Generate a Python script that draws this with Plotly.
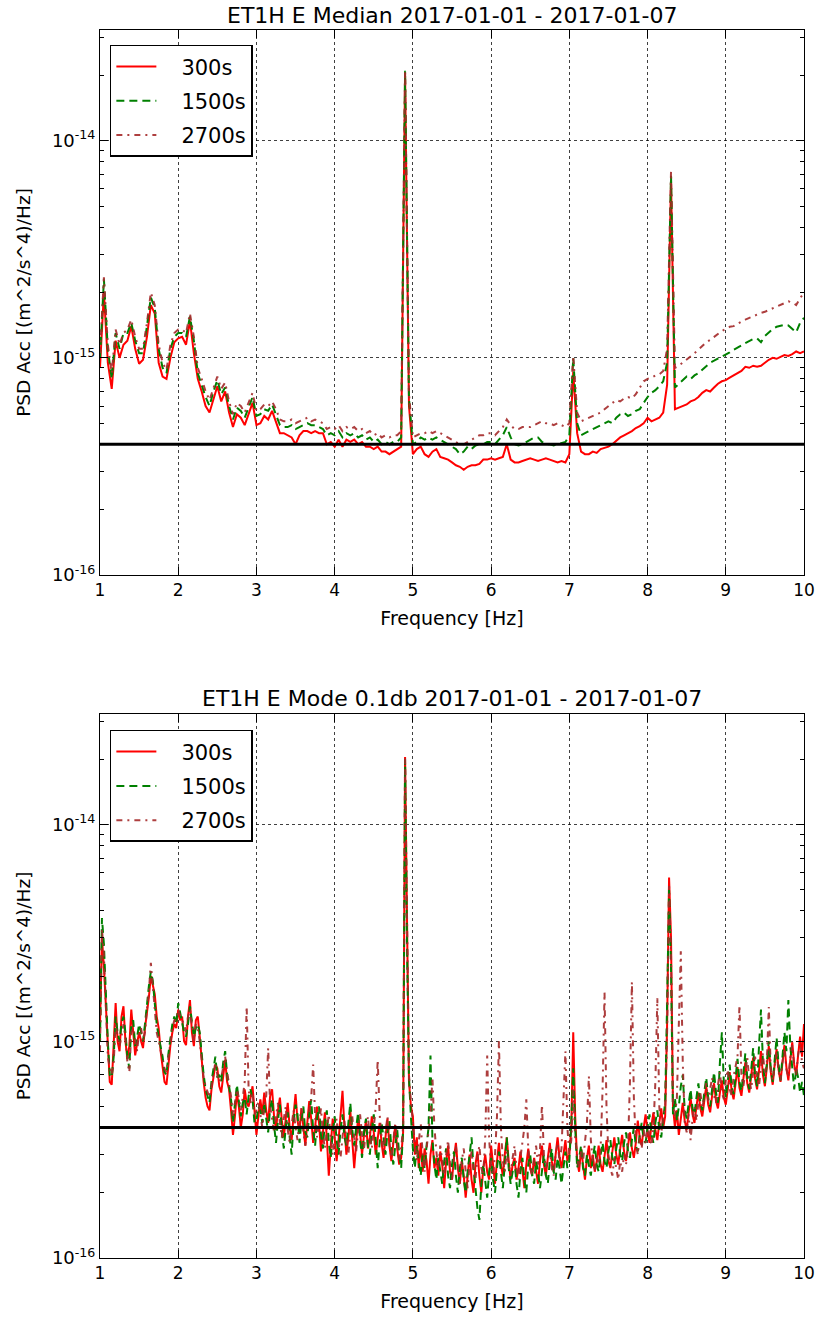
import numpy as np
import plotly.graph_objects as go

# ---------------- data (PSD in units of 1e-16 (m^2/s^4)/Hz) ----------------
UNIT = 1e-16
FLOOR = 4.0  # black reference line level (x UNIT)
labels = ["300s", "1500s", "2700s"]

# Median plot, frequency grid 1.00 .. 10.00 step 0.05 Hz
med_freq = np.round(np.arange(181) * 0.05 + 1.0, 3)
med_300 = [
    9.0, 20.0, 9.5, 7.2, 12.0, 10.0, 11.5, 12.0, 14.0, 11.0, 9.4, 9.8, 12.5, 17.5, 16.0, 9.5, 8.2, 8.0, 10.0, 11.8,
    12.3, 12.5, 11.5, 14.8, 10.5, 8.0, 7.0, 6.0, 5.6, 6.5, 7.4, 6.3, 7.0, 5.6, 4.8, 5.5, 5.3, 4.9, 5.5, 6.2,
    4.9, 5.0, 5.4, 5.2, 5.7, 5.0, 4.5, 4.5, 4.4, 4.3, 4.0, 4.4, 4.6, 4.6, 4.5, 4.6, 4.5, 4.5, 4.0, 4.1,
    3.9, 4.2, 3.9, 4.2, 4.1, 4.2, 4.0, 4.1, 3.9, 3.9, 3.8, 3.9, 3.7, 3.7, 3.6, 3.7, 3.8, 3.9, 205, 6.0,
    3.6, 3.8, 3.9, 3.6, 3.5, 3.7, 3.8, 3.5, 3.45, 3.4, 3.3, 3.2, 3.15, 3.05, 3.15, 3.2, 3.2, 3.25, 3.4, 3.4,
    3.45, 3.4, 3.45, 3.5, 4.0, 3.4, 3.3, 3.3, 3.35, 3.4, 3.45, 3.4, 3.35, 3.4, 3.45, 3.4, 3.35, 3.3, 3.35, 3.3,
    3.6, 8.6, 4.5, 3.7, 3.6, 3.6, 3.7, 3.65, 3.8, 3.85, 3.9, 4.0, 4.15, 4.3, 4.4, 4.5, 4.6, 4.75, 4.85, 5.0,
    5.3, 5.1, 5.2, 5.3, 5.6, 7.5, 66, 5.8, 5.9, 6.0, 6.1, 6.3, 6.4, 6.6, 6.9, 7.1, 7.0, 7.3, 7.6, 7.8,
    7.9, 8.1, 8.3, 8.5, 8.7, 9.1, 9.0, 9.2, 9.1, 9.2, 9.5, 9.8, 10.0, 9.9, 10.1, 10.3, 10.2, 10.4, 10.7, 10.5,
    10.7,
]
med_1500 = [
    10.0, 23.0, 11.0, 8.0, 13.0, 11.0, 13.0, 13.0, 14.5, 12.0, 10.5, 10.5, 14.0, 19.0, 17.0, 11.0, 9.0, 8.5, 11.0, 12.5,
    13.0, 13.0, 12.5, 15.5, 12.0, 8.5, 7.5, 6.6, 6.0, 7.0, 7.9, 6.8, 7.3, 6.0, 5.2, 5.9, 5.7, 5.3, 5.9, 6.6,
    5.4, 5.5, 5.8, 5.7, 6.1, 5.5, 4.9, 4.8, 4.8, 4.9, 4.7, 4.8, 4.9, 5.0, 4.9, 4.9, 4.8, 4.7, 4.4, 4.5,
    4.4, 4.6, 4.3, 4.5, 4.4, 4.5, 4.3, 4.4, 4.2, 4.3, 4.1, 4.2, 4.0, 4.1, 4.0, 4.1, 4.1, 4.3, 210, 6.5,
    4.0, 4.1, 4.3, 4.2, 4.3, 4.2, 4.3, 4.2, 4.1, 4.0, 3.9, 3.8, 3.6, 3.7, 3.9, 3.8, 3.95, 4.0, 4.0, 4.1,
    4.1, 4.0, 4.2, 4.4, 4.8, 4.3, 4.0, 3.95, 4.0, 4.1, 4.2, 4.3, 4.3, 4.1, 4.0, 4.0, 3.95, 4.0, 4.05, 4.1,
    4.4, 10.0, 5.0, 4.4, 4.5, 4.6, 4.7, 4.8, 4.9, 5.0, 5.1, 5.0, 5.3, 5.5, 5.6, 5.4, 5.5, 5.7, 5.8, 6.2,
    6.6, 6.9, 7.1, 7.4, 7.8, 9.5, 69, 7.3, 7.6, 7.9, 8.2, 8.0, 8.3, 8.5, 8.8, 9.2, 9.5, 9.7, 9.9, 10.1,
    10.3, 10.6, 10.9, 11.2, 11.4, 11.7, 12.0, 12.2, 12.3, 11.8, 12.6, 13.1, 13.6, 13.9, 14.0, 14.2, 14.1, 13.6, 13.1, 14.5,
    15.3,
]
med_2700 = [
    10.5, 23.5, 11.5, 8.5, 13.5, 11.5, 13.0, 13.5, 15.0, 12.5, 11.0, 11.0, 14.5, 20.0, 17.5, 11.5, 9.5, 8.8, 11.5, 13.0,
    13.5, 13.5, 13.0, 16.0, 12.5, 9.0, 8.0, 7.0, 6.4, 7.3, 8.2, 7.2, 7.7, 6.3, 5.5, 6.2, 6.0, 5.6, 6.2, 6.9,
    5.7, 5.8, 6.1, 6.0, 6.3, 5.8, 5.2, 5.1, 5.1, 5.2, 5.0, 5.1, 5.2, 5.3, 5.1, 5.2, 5.1, 5.0, 4.7, 4.8,
    4.7, 4.9, 4.6, 4.8, 4.7, 4.8, 4.6, 4.7, 4.5, 4.6, 4.4, 4.5, 4.3, 4.4, 4.3, 4.4, 4.4, 4.6, 212, 6.8,
    4.3, 4.4, 4.5, 4.5, 4.6, 4.5, 4.6, 4.5, 4.4, 4.3, 4.2, 4.1, 4.0, 4.0, 4.1, 4.2, 4.3, 4.4, 4.4, 4.5,
    4.5, 4.4, 4.6, 4.8, 5.2, 4.9, 4.7, 4.7, 4.8, 4.8, 4.8, 4.9, 5.0, 5.1, 5.0, 5.0, 4.9, 5.0, 4.9, 4.8,
    5.0, 10.2, 5.6, 5.1, 5.2, 5.3, 5.4, 5.5, 5.6, 5.8, 6.0, 6.2, 6.4, 6.3, 6.5, 6.6, 6.5, 6.8, 7.3, 7.8,
    8.0, 8.1, 8.3, 8.4, 8.7, 11.0, 72, 9.0, 9.2, 9.5, 9.8, 10.1, 10.5, 10.9, 11.3, 11.8, 12.1, 12.5, 12.9, 13.3,
    13.6, 13.9, 14.0, 14.4, 14.7, 15.0, 15.3, 15.5, 15.9, 16.1, 16.3, 16.6, 16.9, 17.1, 17.4, 17.8, 18.2, 18.0, 17.5, 18.8,
    20.0,
]

# Mode 0.1db plot, frequency grid 1.000 .. 10.000 step 0.025 Hz
mode_freq = np.round(np.arange(361) * 0.025 + 1.0, 3)
mode_300 = [
    12, 30, 22, 14, 9, 6.5, 6.3, 9.5, 15, 10, 9, 13, 14.5, 10, 8.3, 9.5, 14, 11, 8.6, 9.8, 11, 10, 9.3, 11.5, 13.5, 16, 20, 18, 16.5, 13, 11.5, 9, 7.8, 6.5, 6.3, 8, 9.6, 11, 12, 11.5,
    14, 12.5, 13, 10, 9.6, 13, 15.5, 11, 9.5, 12.5, 13, 10.5, 8, 6.5, 5.5, 5.0, 4.8, 6.0, 6.8, 7.8, 7.5, 6.2, 5.8, 7.0, 8.2, 6.5, 6.0, 4.8, 3.7, 4.5, 5.8, 5.0, 4.0, 4.6, 6.0, 5.2, 5.0, 5.5, 6.2, 4.8,
    3.7, 4.5, 5.4, 4.6, 5.8, 4.8, 4.2, 5.6, 6.0, 4.5, 3.9, 4.8, 5.5, 4.3, 3.6, 4.4, 5.2, 4.0, 3.5, 4.6, 5.7, 4.3, 3.8, 4.9, 4.1, 3.3, 4.2, 5.3, 4.4, 3.4, 4.0, 5.0, 4.2, 3.1, 3.8, 4.7, 3.6, 2.4, 3.3, 4.4,
    3.6, 2.8, 3.5, 4.6, 5.9, 4.0, 3.0, 3.6, 4.8, 3.5, 2.6, 3.4, 4.5, 3.8, 3.0, 3.7, 4.3, 3.2, 3.6, 4.5, 3.8, 3.0, 3.5, 4.2, 3.4, 2.9, 3.6, 4.4, 3.3, 2.8, 3.4, 4.1, 3.2, 2.7, 2.9, 3.8, 205, 25, 6.5, 5.0,
    4.5, 3.0, 3.6, 2.6, 3.4, 2.5, 3.2, 2.8, 2.2, 3.0, 3.5, 2.6, 2.9, 2.4, 3.1, 2.7, 2.1, 2.8, 3.3, 2.5, 2.3, 2.9, 3.4, 2.6, 2.2, 2.8, 2.4, 1.9, 2.5, 3.0, 2.3, 2.0, 2.7, 3.1, 2.4, 2.0, 2.6, 3.0, 2.5, 2.3,
    3.3, 2.6, 2.2, 2.8, 3.4, 2.7, 2.4, 3.0, 3.6, 2.8, 2.3, 2.7, 2.9, 2.3, 2.6, 3.1, 2.5, 2.1, 2.7, 3.2, 2.6, 2.4, 2.9, 2.5, 2.2, 2.8, 3.3, 2.7, 2.4, 2.9, 3.4, 2.8, 2.5, 3.0, 3.6, 2.9, 2.6, 3.0, 3.5, 2.8,
    3.0, 4.0, 11.0, 4.5, 2.8, 2.5, 3.2, 2.7, 2.3, 2.9, 3.3, 2.6, 3.0, 2.5, 2.8, 3.3, 2.7, 2.5, 3.0, 3.5, 2.8, 2.6, 3.1, 3.6, 3.0, 2.7, 3.2, 3.7, 3.1, 2.8, 3.3, 3.8, 3.2, 2.9, 3.4, 4.3, 3.6, 3.3, 4.0, 4.6,
    3.8, 3.4, 4.1, 4.7, 3.9, 3.5, 4.2, 4.9, 4.0, 4.5, 12.0, 57, 30, 5.0, 4.0, 4.8, 3.7, 4.4, 5.2, 4.3, 3.9, 4.7, 5.5, 4.6, 4.2, 5.0, 5.8, 4.9, 4.5, 5.3, 6.2, 5.1, 4.7, 5.6, 6.4, 5.3, 4.9, 5.8, 6.6, 5.5,
    5.1, 6.0, 7.2, 5.9, 5.4, 6.4, 7.6, 6.1, 5.6, 6.7, 8.0, 6.4, 5.8, 6.9, 8.4, 6.7, 6.0, 7.3, 9.0, 7.0, 6.2, 7.6, 9.5, 7.2, 6.3, 7.8, 9.2, 7.4, 6.5, 8.0, 9.6, 7.6, 6.6, 8.2, 9.9, 7.8, 7.0, 8.6, 10.5, 8.5,
    12.0,
]
mode_1500 = [
    10, 37, 28, 16, 10, 7.0, 6.8, 8.5, 13, 11, 10, 12, 13, 11, 8.5, 7.5, 12, 12.5, 9.5, 10.5, 12, 11, 10, 12, 15, 18, 21, 19, 15, 12, 10.5, 9.5, 8.5, 7.2, 7.0, 8.8, 10.5, 12, 13, 12,
    15, 13.5, 12, 11, 10.5, 12, 14.5, 12, 10.5, 11.5, 12, 11, 8.5, 7.0, 6.0, 5.5, 5.2, 6.5, 7.5, 8.5, 6.8, 7.0, 6.5, 8.0, 9.0, 7.0, 6.2, 5.4, 4.2, 5.0, 6.3, 5.3, 4.5, 5.2, 5.5, 4.6, 5.6, 6.0, 5.4, 4.2,
    4.3, 5.0, 4.8, 4.2, 5.2, 4.4, 3.8, 4.9, 5.4, 4.1, 3.4, 4.3, 5.1, 3.8, 3.2, 4.0, 4.7, 3.6, 3.0, 4.2, 5.1, 4.6, 3.4, 4.3, 5.0, 3.8, 3.6, 4.6, 5.4, 3.9, 3.3, 4.4, 5.0, 3.7, 3.2, 4.3, 4.8, 3.4, 2.9, 3.8,
    4.5, 3.5, 3.0, 3.9, 4.6, 3.6, 3.3, 4.2, 5.2, 3.9, 3.3, 4.0, 4.7, 3.5, 2.9, 3.8, 4.4, 3.3, 3.0, 3.9, 4.6, 3.5, 2.6, 3.4, 4.2, 3.6, 3.0, 3.8, 4.3, 3.2, 2.7, 3.3, 3.9, 3.0, 2.6, 3.9, 200, 28, 6.8, 4.5,
    3.2, 2.6, 3.3, 2.8, 2.4, 3.0, 2.6, 3.3, 4.0, 8.6, 3.5, 2.7, 2.3, 2.9, 2.5, 2.2, 2.8, 3.2, 2.4, 2.1, 2.7, 3.1, 2.4, 2.0, 2.6, 2.9, 2.3, 2.0, 2.5, 3.0, 3.6, 2.6, 2.1, 1.7, 1.5, 2.2, 2.7, 2.3, 1.9, 2.5,
    2.9, 2.3, 2.0, 2.6, 3.1, 2.5, 2.1, 2.7, 3.6, 2.6, 2.2, 2.5, 2.8, 2.2, 1.9, 2.5, 2.9, 2.3, 2.0, 2.7, 3.0, 2.4, 2.2, 2.8, 2.5, 2.1, 2.6, 3.0, 2.4, 2.2, 2.8, 3.2, 2.5, 2.3, 2.9, 2.6, 2.2, 2.7, 3.1, 2.6,
    2.8, 4.2, 7.5, 4.0, 2.6, 2.9, 3.3, 2.6, 2.4, 3.0, 2.7, 2.4, 2.9, 3.3, 2.7, 2.5, 3.0, 3.4, 2.8, 2.6, 3.1, 3.5, 2.9, 2.7, 3.2, 3.6, 3.0, 2.8, 3.4, 3.8, 3.1, 2.9, 3.5, 4.0, 3.3, 3.1, 3.7, 4.2, 3.5, 3.4,
    4.0, 4.6, 3.7, 3.4, 4.2, 4.8, 3.9, 3.6, 4.4, 5.2, 15, 50, 22, 4.6, 5.5, 4.3, 5.0, 6.2, 7.0, 4.8, 4.4, 5.3, 6.0, 4.9, 4.6, 5.5, 6.4, 5.2, 4.8, 5.8, 6.8, 5.5, 5.0, 6.0, 7.2, 5.8, 5.2, 8.0, 11.0, 6.5,
    5.5, 6.5, 7.8, 6.2, 5.7, 6.8, 8.3, 6.5, 5.9, 7.1, 8.8, 6.8, 6.0, 7.4, 9.3, 7.0, 6.2, 9.5, 14, 8.0, 6.4, 7.9, 10.0, 7.5, 6.5, 8.2, 10.4, 7.8, 6.6, 8.5, 11.0, 9.0, 15.5, 9.5, 7.2, 6.0, 7.5, 6.8, 5.8, 6.5,
    5.6,
]
mode_2700 = [
    9, 33, 25, 13, 8.5, 7.5, 7.0, 8.0, 12, 10.5, 9.5, 10.5, 12, 10.5, 8.0, 7.2, 11, 11.5, 10, 9.0, 11, 11.5, 10, 11, 14, 17, 23, 18, 14, 11, 10, 9.0, 8.2, 7.5, 7.2, 8.5, 10, 11.5, 12.5, 12.5,
    14, 13, 12.5, 12, 11, 13, 14, 11.5, 10, 12, 11.5, 10, 8.0, 6.8, 6.2, 5.8, 5.5, 6.2, 7.2, 8.0, 7.0, 6.5, 6.8, 7.5, 8.5, 7.2, 6.4, 5.6, 4.5, 5.2, 6.0, 5.5, 4.8, 5.5, 6.5, 14.5, 6.0, 5.2, 5.8, 4.6,
    4.8, 5.3, 4.6, 4.0, 5.0, 5.6, 9.3, 5.0, 4.4, 3.8, 4.5, 5.2, 4.2, 3.6, 4.4, 5.0, 3.9, 3.4, 4.1, 4.8, 4.0, 3.5, 4.2, 4.9, 3.8, 3.3, 4.0, 4.7, 5.5, 7.8, 4.5, 3.6, 4.3, 4.9, 3.7, 3.2, 3.9, 4.6, 3.5, 3.0,
    3.7, 4.4, 3.4, 2.9, 3.6, 4.3, 3.5, 3.0, 3.8, 4.5, 3.6, 3.1, 3.9, 4.6, 3.7, 3.2, 3.8, 4.5, 3.6, 3.2, 4.0, 5.0, 8.2, 4.6, 3.6, 3.1, 3.8, 4.5, 3.4, 2.9, 3.5, 4.2, 3.3, 2.8, 3.2, 4.0, 203, 30, 7.0, 5.2,
    4.0, 3.4, 2.8, 3.6, 4.2, 3.0, 2.5, 3.2, 3.8, 4.6, 6.8, 4.0, 3.1, 2.6, 3.3, 2.8, 2.4, 3.0, 3.5, 2.7, 2.3, 2.9, 3.3, 2.6, 2.2, 2.8, 3.2, 2.5, 2.1, 2.7, 3.1, 2.5, 2.3, 2.9, 3.3, 2.6, 2.4, 3.6, 8.6, 3.5,
    2.7, 2.4, 3.0, 4.5, 10.0, 4.0, 2.8, 2.5, 3.1, 2.7, 2.4, 2.9, 3.3, 2.6, 2.3, 2.9, 3.4, 4.0, 5.4, 3.2, 2.6, 2.4, 2.9, 3.3, 2.7, 3.2, 5.1, 3.0, 2.6, 2.8, 3.2, 2.6, 2.4, 3.0, 3.4, 2.8, 3.2, 5.0, 9.0, 4.0,
    3.0, 3.5, 6.0, 3.6, 2.9, 2.6, 3.1, 2.8, 3.4, 4.2, 6.9, 3.5, 2.8, 2.5, 3.0, 2.7, 3.2, 6.0, 16.8, 5.0, 3.0, 2.6, 2.4, 2.9, 2.6, 2.3, 2.8, 2.5, 3.0, 2.7, 3.3, 6.5, 18.8, 5.5, 3.4, 3.0, 3.6, 3.2, 3.9, 3.4,
    4.1, 3.6, 3.3, 4.0, 6.5, 15.8, 5.0, 3.8, 4.3, 5.0, 11, 52, 25, 5.2, 4.5, 5.5, 12, 26, 8.0, 4.2, 3.8, 4.6, 3.5, 4.4, 5.0, 4.3, 5.2, 5.8, 4.9, 5.5, 6.4, 5.3, 6.0, 6.8, 5.6, 5.2, 6.3, 7.2, 5.8, 5.4,
    6.6, 7.4, 6.0, 5.6, 6.9, 7.8, 8.5, 14.7, 7.0, 6.2, 7.4, 8.4, 6.6, 6.0, 7.2, 8.5, 6.8, 6.2, 7.6, 8.8, 7.0, 8.0, 14.4, 7.5, 6.6, 7.9, 9.0, 7.2, 6.6, 8.0, 9.3, 7.4, 6.8, 8.4, 9.6, 7.6, 7.0, 8.7, 9.8, 8.0,
    7.5,
]

titles = ["ET1H E Median 2017-01-01 - 2017-01-07",
          "ET1H E Mode 0.1db 2017-01-01 - 2017-01-07"]
x_label = "Frequency [Hz]"
y_label = "PSD Acc [(m^2/s^4)/Hz]"
y_tick_vals = [1e-16, 1e-15, 1e-14]
y_tick_text = ["10<sup>-16</sup>", "10<sup>-15</sup>", "10<sup>-14</sup>"]
x_ticks = list(range(1, 11))

# ---------------- figure ----------------
FONT = "DejaVu Sans"
colors = ["#ff0000", "#008000", "#a52a2a"]
dashes = ["solid", "8px,5px", "6px,5px,2px,5px"]
PAD = "\u00a0\u00a0\u00a0"

fig = go.Figure()

panels = [
    (med_freq, [med_300, med_1500, med_2700], "x", "y", "legend"),
    (mode_freq, [mode_300, mode_1500, mode_2700], "x2", "y2", "legend2"),
]
for p, (freq, series, xa, ya, leg) in enumerate(panels):
    for i, (vals, lab) in enumerate(zip(series, labels)):
        xs = freq[:len(vals)] if len(vals) <= len(freq) else np.linspace(1, 10, len(vals))
        fig.add_trace(go.Scatter(
            x=xs, y=np.array(vals, dtype=float) * UNIT, mode="lines", name=PAD + lab,
            line=dict(color=colors[i], width=2, dash=dashes[i]),
            opacity=0.9 if i == 2 else 1.0,
            xaxis=xa, yaxis=ya, legend=leg, legendgroup=f"{p}-{i}",
        ))
    fig.add_trace(go.Scatter(
        x=[1, 10], y=[FLOOR * UNIT, FLOOR * UNIT], mode="lines",
        line=dict(color="black", width=3), showlegend=False, xaxis=xa, yaxis=ya,
    ))

minor_vals = [k * 10.0 ** e for e in (-16, -15, -14) for k in range(2, 10) if k * 10.0 ** e < 3.3e-14]

axis_common = dict(
    showline=True, linecolor="black", linewidth=1, mirror="ticks",
    ticks="inside", ticklen=8, tickcolor="black", tickwidth=1,
    showgrid=True, gridcolor="rgba(0,0,0,0.75)", griddash="dot", gridwidth=1,
    zeroline=False, tickfont=dict(family=FONT, size=17, color="black"),
    automargin=False,
)

xcfg = dict(axis_common, range=[1, 10], tickmode="array", tickvals=x_ticks,
            ticktext=[str(t) for t in x_ticks],
            title=dict(text=x_label, font=dict(family=FONT, size=19, color="black"), standoff=12))
ycfg = dict(axis_common, type="log", range=[-16, -13.49], tickmode="array",
            tickvals=y_tick_vals, ticktext=y_tick_text,
            tickfont=dict(family=FONT, size=18, color="black"),
            minor=dict(tickmode="array", tickvals=minor_vals, ticks="inside", ticklen=4,
                       tickcolor="black", showgrid=False),
            title=dict(text=y_label, font=dict(family=FONT, size=18.5, color="black"), standoff=16))

top_dom = [0.5562, 1.0]
bot_dom = [0.0, 0.443]

legend_common = dict(
    bgcolor="white", bordercolor="black", borderwidth=1.5,
    font=dict(family=FONT, size=21, color="black"),
    xanchor="left", yanchor="top", tracegroupgap=4, itemwidth=40,
)

fig.update_layout(
    width=818, height=1319,
    margin=dict(l=100, r=14, t=30, b=61),
    paper_bgcolor="white", plot_bgcolor="white",
    showlegend=True,
    xaxis=dict(xcfg, domain=[0, 1], anchor="y"),
    yaxis=dict(ycfg, domain=top_dom, anchor="x"),
    xaxis2=dict(xcfg, domain=[0, 1], anchor="y2"),
    yaxis2=dict(ycfg, domain=bot_dom, anchor="x2"),
    legend=dict(legend_common, x=0.014, y=0.988),
    legend2=dict(legend_common, x=0.014, y=0.430),
    annotations=[
        dict(text=titles[0], xref="paper", yref="paper", x=0.5, y=1.0122,
             xanchor="center", yanchor="middle", showarrow=False,
             font=dict(family=FONT, size=22, color="black")),
        dict(text=titles[1], xref="paper", yref="paper", x=0.5, y=0.456,
             xanchor="center", yanchor="middle", showarrow=False,
             font=dict(family=FONT, size=22, color="black")),
    ],
)

fig.write_html("out.html", config={"displayModeBar": False},
               post_script="document.body.style.margin='0';document.body.style.padding='0';")
